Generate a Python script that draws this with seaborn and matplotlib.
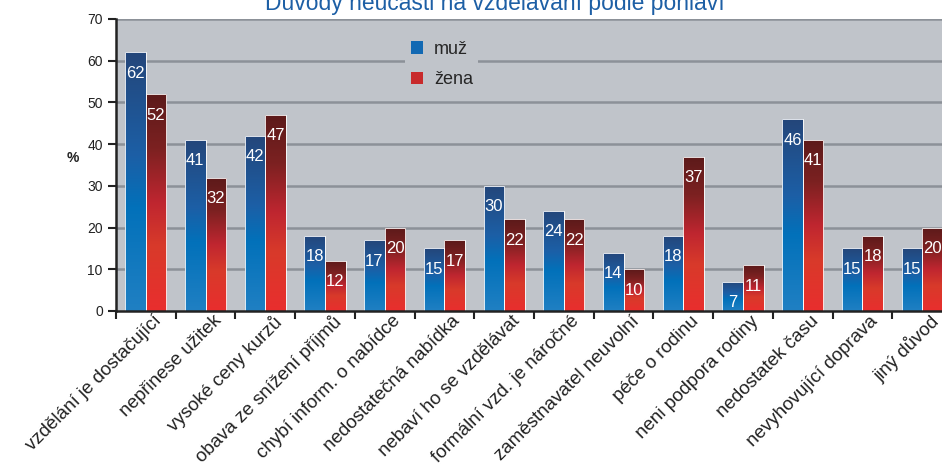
import numpy as np
import pandas as pd
import matplotlib
matplotlib.use("Agg")
import matplotlib.pyplot as plt
from matplotlib.colors import LinearSegmentedColormap
from matplotlib.patches import Patch
from matplotlib.transforms import ScaledTranslation
import seaborn as sns

reasons = [
    "vzdělání je dostačující", "nepřinese užitek", "vysoké ceny kurzů",
    "obava ze snížení příjmů", "chybí inform. o nabídce", "nedostatečná nabídka",
    "nebaví ho se vzdělávat", "formální vzd. je náročné", "zaměstnavatel neuvolní",
    "péče o rodinu", "neni podpora rodiny", "nedostatek času",
    "nevyhovující doprava", "jiný důvod",
]
muz = [62, 41, 42, 18, 17, 15, 30, 24, 14, 18, 7, 46, 15, 15]
zena = [52, 32, 47, 12, 20, 17, 22, 22, 10, 37, 11, 41, 18, 20]
series = ["muž", "žena"]

df = pd.DataFrame({"duvod": reasons * 2,
                   "pohlavi": [series[0]] * len(muz) + [series[1]] * len(zena),
                   "hodnota": muz + zena})

sns.set_style("white")
plt.rcParams["font.family"] = ["Liberation Sans", "DejaVu Sans"]
narrow = ["Liberation Sans Narrow", "Liberation Sans", "DejaVu Sans"]

bg = "#c0c4ca"
blue_cm = LinearSegmentedColormap.from_list(
    "b", [(0, "#2080c3"), (0.4, "#0271ba"), (0.6, "#1c5fa6"), (1, "#24467a")])
red_cm = LinearSegmentedColormap.from_list(
    "r", [(0, "#e92e2e"), (0.3, "#d83a2a"), (0.5, "#bf2630"), (0.75, "#7c2121"), (1, "#5c1a1a")])

fig = plt.figure(figsize=(9.42, 4.69), dpi=100)
ax = fig.add_axes([116 / 942, 1 - 311 / 469, 836 / 942, 292 / 469])
ax.set_facecolor(bg)

sns.barplot(data=df, x="duvod", y="hodnota", hue="pohlavi", hue_order=series,
            width=0.69, palette=["#1a6bb5", "#d42a2c"], edgecolor="white",
            linewidth=0.6, legend=False, ax=ax, zorder=3)

grad = np.linspace(0, 1, 256).reshape(-1, 1)
for cont, cm in zip(ax.containers, [blue_cm, red_cm]):
    for bar, val in zip(cont, cont.datavalues):
        x0, y0 = bar.get_x(), bar.get_y()
        w, h = bar.get_width(), bar.get_height()
        im = ax.imshow(grad, cmap=cm, extent=[x0, x0 + w, y0, y0 + h],
                       origin="lower", aspect="auto", zorder=3.5)
        im.set_clip_path(bar)
        bar.set_facecolor("none")
        bar.set_zorder(4)
        ax.annotate(f"{val:g}", (x0 + w / 2, y0 + h), xytext=(0, -21),
                    textcoords="offset pixels", ha="center", va="center",
                    color="white", fontsize=12, family=narrow, zorder=5)

n = len(reasons)
ax.set_xlim(-0.5, n - 0.5)
ax.set_ylim(0, 70)
ax.set_yticks(range(0, 71, 10))
for yv in range(10, 71, 10):
    ax.axhline(yv, color="#8c9198", lw=1.8, zorder=1)

ax.set_xticks(np.arange(-0.5, n, 1))
ax.set_xticklabels([])
ax.set_xticks(range(n), minor=True)
ax.set_xticklabels(reasons, minor=True, rotation=45, ha="right", va="top",
                   rotation_mode="anchor", fontsize=13.5, color="#222222")
ax.tick_params(axis="x", which="minor", length=0, pad=1)
ax.tick_params(axis="x", which="major", direction="out", length=6, width=1.5,
               color="#222222", bottom=True)
shift = ScaledTranslation(7 / 100, 0, fig.dpi_scale_trans)
for lab in ax.get_xticklabels(minor=True):
    lab.set_transform(lab.get_transform() + shift)
ax.tick_params(axis="y", direction="out", length=6, width=1.5, color="#222222",
               left=True, labelsize=10, labelcolor="#222222")
for lab in ax.get_yticklabels():
    lab.set_family(narrow)

for s in ["top", "right"]:
    ax.spines[s].set_visible(False)
for s in ["left", "bottom"]:
    ax.spines[s].set_color("#222222")
    ax.spines[s].set_linewidth(1.8)
    ax.spines[s].set_zorder(6)

ax.set_xlabel("")
ax.set_ylabel("%", rotation=0, fontsize=10, fontweight="bold", color="#222222")
ax.yaxis.set_label_coords(-0.052, 0.5)

handles = [Patch(facecolor="#1269b3", edgecolor="none"),
           Patch(facecolor="#c82a2c", edgecolor="none")]
leg = ax.legend(handles, series, loc="upper left", bbox_to_anchor=(0.335, 0.975),
                frameon=True, facecolor=bg, edgecolor="none", framealpha=1,
                fontsize=13, handlelength=0.7, handleheight=0.7, handletextpad=0.6,
                labelspacing=0.75, borderpad=0.3)
leg.set_zorder(2)

fig.text(0.525, 1 - 10 / 469, "Důvody neúčasti na vzdělávání podle pohlaví",
         ha="center", va="baseline", fontsize=16.5, color="#1d5fa5")

fig.savefig("out.png", dpi=100)
